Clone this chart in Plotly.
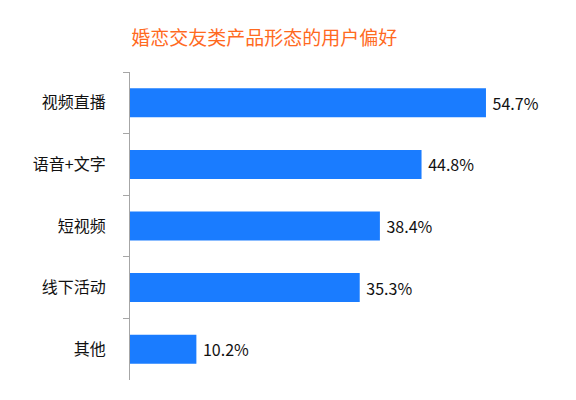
import plotly.graph_objs as go

# data
categories = ['视频直播', '语音+文字', '短视频', '线下活动', '其他']
shares = [54.7, 44.8, 38.4, 35.3, 10.2]
labels = [' %.1f%%' % v for v in shares]

fig = go.Figure()

fig.add_trace(go.Bar(
    y=categories, x=shares, orientation='h',
    marker=dict(color='#1A7CFF', line=dict(width=0)),
    text=labels, textposition='outside', cliponaxis=False,
    textfont=dict(size=16, color='#111111'),
    width=0.47,
))

# page body adds 8px offset, margins account for it
fig.update_layout(
    width=576, height=400,
    margin=dict(l=122, r=31, t=64, b=28),
    paper_bgcolor='white', plot_bgcolor='white',
    font=dict(family='Noto Sans CJK SC', size=16, color='#111111'),
    title=dict(text='婚恋交友类产品形态的用户偏好', x=0.445, xanchor='center',
               y=0.925, yanchor='middle',
               font=dict(size=19, color='#FF6A1F')),
    showlegend=False,
)

fig.update_xaxes(range=[0, 65], visible=False)
fig.update_yaxes(autorange='reversed', showline=True, linecolor='#A6A6A6',
                 linewidth=1.3, ticks='outside', tickson='boundaries',
                 ticklen=6, tickcolor='#A6A6A6', tickwidth=1.3,
                 showgrid=False, automargin=False, ticklabelstandoff=20)

fig.write_html('out.html')
